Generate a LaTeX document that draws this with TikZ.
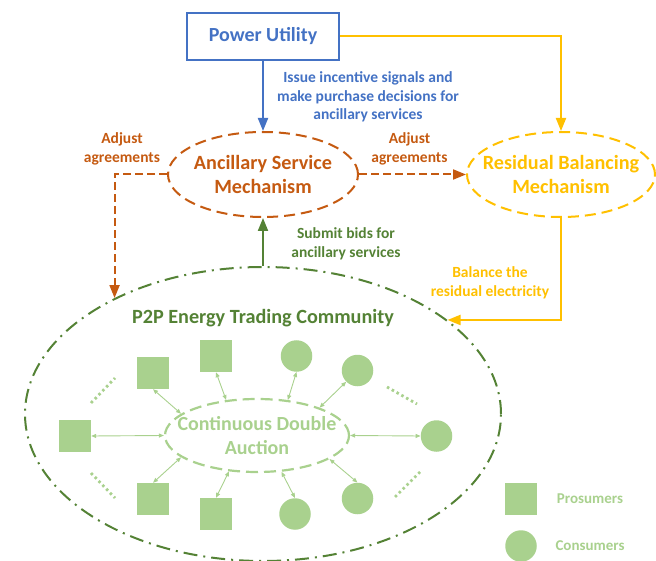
\documentclass[tikz,border=0pt]{standalone}
\usepackage{fontspec}
\setmainfont{Carlito}
\usepackage{xcolor}
\usepackage{tikz}
\usetikzlibrary{shapes.geometric, arrows.meta}

\definecolor{puBlue}{HTML}{4472C4}
\definecolor{asOrange}{HTML}{C55A11}
\definecolor{rbYellow}{HTML}{FFC000}
\definecolor{commGreen}{HTML}{548235}
\definecolor{lightGreen}{HTML}{A9D18E}

\tikzset{
  mech/.style={ellipse, line width=2pt, dash pattern=on 11pt off 6pt, minimum width=190pt, minimum height=85pt},
  mechtext/.style={font=\bfseries\fontsize{20.2}{24}\selectfont, align=center},
  bigtip/.style={-{Triangle[length=13pt,width=10pt]}, line width=2pt},
  member/.style={{Triangle[length=5pt,width=4pt]}-{Triangle[length=5pt,width=4pt]}, lightGreen, line width=0.9pt},
  prosumer/.style={rectangle, fill=lightGreen, minimum size=32pt, inner sep=0pt},
  consumer/.style={circle, fill=lightGreen, minimum size=31.5pt, inner sep=0pt},
  lbl/.style={font=\bfseries\fontsize{15.5}{18.5}\selectfont, align=center},
  dots/.style={lightGreen, line width=2.8pt, dash pattern=on 2.5pt off 3pt}
}

\begin{document}
\begin{tikzpicture}[x=1pt, y=-1pt]
      \useasboundingbox (0,0) rectangle (656,561);
      \node[draw=puBlue, line width=2pt, minimum width=152pt, minimum height=47pt, text=puBlue, font=\bfseries\fontsize{20}{24}\selectfont] (PU) at (263,36.5) {Power Utility};
      \node[mech, draw=asOrange, label={[mechtext, text=asOrange]center:Ancillary Service\\Mechanism}] (ASM) at (263,174.5) {};
      \node[mech, draw=rbYellow, minimum width=188pt, label={[mechtext, text=rbYellow]center:Residual Balancing\\Mechanism}] (RBM) at (561,174.5) {};
      \node[ellipse, draw=commGreen, line width=2pt, dash pattern=on 14pt off 6pt on 2pt off 6pt, minimum width=476pt, minimum height=294pt] (P2P) at (263,414) {};
      \node[font=\bfseries\fontsize{20.2}{24}\selectfont, text=commGreen] (TITLE) at (263,318) {P2P Energy Trading Community};
      \node[ellipse, draw=lightGreen, line width=2.2pt, dash pattern=on 12pt off 6pt, minimum width=184pt, minimum height=73pt, label={[font=\bfseries\fontsize{20}{24}\selectfont, align=center, text=lightGreen]center:Continuous Double\\Auction}] (CDA) at (257,435.5) {};
        % Prosumers and consumers
      \node[prosumer] (S1) at (153,373) {};
      \node[prosumer] (S2) at (216,356) {};
      \node[prosumer] (S3) at (75,436) {};
      \node[prosumer] (S4) at (153,499) {};
      \node[prosumer] (S5) at (216,514) {};
      \node[consumer] (C1) at (296.5,356) {};
      \node[consumer] (C2) at (357.5,370.5) {};
      \node[consumer] (C3) at (436.5,436) {};
      \node[consumer] (C4) at (357.5,498.5) {};
      \node[consumer] (C5) at (295,514) {};
      \node[prosumer] (LP) at (521,499) {};
      \node[consumer] (LC) at (521,546) {};
      \node[lbl, text=lightGreen, font=\bfseries\fontsize{15}{18}\selectfont] (LPT) at (590,499) {Prosumers};
      \node[lbl, text=lightGreen, font=\bfseries\fontsize{15}{18}\selectfont] (LCT) at (590,546) {Consumers};
        % Labels
      \node[lbl, text=puBlue] (ISSUE) at (368,97) {Issue incentive signals and\\make purchase decisions for\\ancillary services};
      \node[lbl, text=asOrange] (ADJL) at (122,149) {Adjust\\agreements};
      \node[lbl, text=asOrange] (ADJR) at (409.5,149) {Adjust\\agreements};
      \node[lbl, text=commGreen] (BIDS) at (346,244) {Submit bids for\\ancillary services};
      \node[lbl, text=rbYellow] (BAL) at (490,283) {Balance the\\residual electricity};
      \draw[bigtip, puBlue] (PU) -- (ASM);
      \draw[bigtip, rbYellow] (PU.east) -| (RBM.north);
      \draw[bigtip, asOrange, dash pattern=on 8pt off 4pt] (ASM.east) -- (RBM.west);
      \draw[bigtip, asOrange, dash pattern=on 8pt off 4pt] (ASM.west) -| (P2P.142);
      \draw[bigtip, commGreen] (P2P.north) -- (ASM.south);
      \draw[bigtip, rbYellow] (RBM.south) |- (P2P.27);
      \draw[member] (S1.south) -- (CDA.164);
      \draw[member] (S2.south) -- (CDA.131);
      \draw[member] (C1.south) -- (CDA.49);
      \draw[member] (C2.south west) -- (CDA.24);
      \draw[member] (S3.east) -- (CDA.west);
      \draw[member] (C3.west) -- (CDA.east);
      \draw[member] (S4.north) -- (CDA.196);
      \draw[member] (S5.north) -- (CDA.232);
      \draw[member] (C5.north) -- (CDA.304);
      \draw[member] (C4.north) -- (CDA.342);
      \draw[dots] (91,403) -- (115,378);
      \draw[dots] (91,473) -- (115,498);
      \draw[dots] (387,387) -- (417,404);
      \draw[dots] (395,497) -- (420,472);
    \end{tikzpicture}
\end{document}
